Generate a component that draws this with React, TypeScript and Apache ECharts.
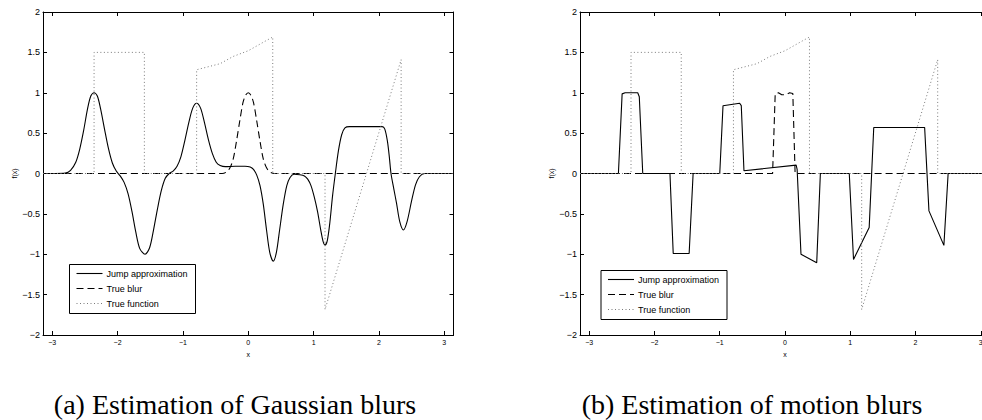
import React, { useEffect, useRef } from 'react';
import * as echarts from 'echarts';

const PI = Math.PI;
const xTickValues = [-3, -2, -1, 0, 1, 2, 3];
const yMin = -2;
const yMax = 2;
const yStep = 0.5;
const seriesNames = ['Jump approximation', 'True blur', 'True function'];
const captions = ['(a) Estimation of Gaussian blurs', '(b) Estimation of motion blurs'];

// (a) Gaussian blurs
const gaussJumpApprox: [number, number][] = [
  [-3.1416, 0], [-2.95, 0], [-2.8, 0.005], [-2.72, 0.04], [-2.64, 0.14], [-2.58, 0.3],
  [-2.52, 0.53], [-2.46, 0.8], [-2.41, 0.96], [-2.36, 1.0], [-2.31, 0.96], [-2.26, 0.8],
  [-2.2, 0.55], [-2.14, 0.31], [-2.08, 0.13], [-2.02, 0.03], [-1.96, -0.03], [-1.9, -0.11],
  [-1.84, -0.25], [-1.78, -0.47], [-1.72, -0.73], [-1.66, -0.93], [-1.58, -1.0], [-1.51, -0.92],
  [-1.45, -0.7], [-1.39, -0.44], [-1.33, -0.21], [-1.27, -0.06], [-1.21, 0.0], [-1.15, 0.03],
  [-1.09, 0.09], [-1.03, 0.21], [-0.97, 0.41], [-0.91, 0.63], [-0.85, 0.81], [-0.79, 0.87],
  [-0.73, 0.81], [-0.67, 0.63], [-0.61, 0.42], [-0.55, 0.25], [-0.49, 0.14], [-0.43, 0.1],
  [-0.35, 0.085], [-0.2, 0.09], [-0.05, 0.09], [0.03, 0.08], [0.08, 0.05], [0.13, -0.02],
  [0.18, -0.15], [0.23, -0.38], [0.28, -0.7], [0.33, -0.98], [0.383, -1.085], [0.43, -0.98],
  [0.48, -0.7], [0.536, -0.38], [0.59, -0.15], [0.64, -0.05], [0.7, -0.01], [0.79, -0.015],
  [0.86, -0.03], [0.91, -0.07], [0.96, -0.15], [1.01, -0.29], [1.06, -0.47], [1.11, -0.7],
  [1.145, -0.84], [1.175, -0.886], [1.21, -0.83], [1.25, -0.6], [1.29, -0.28], [1.333, 0.0],
  [1.38, 0.28], [1.43, 0.48], [1.48, 0.565], [1.55, 0.58], [2.05, 0.58], [2.09, 0.55],
  [2.13, 0.4], [2.16, 0.2], [2.185, 0.0], [2.23, -0.2], [2.27, -0.37], [2.32, -0.6],
  [2.375, -0.7], [2.43, -0.6], [2.5, -0.34], [2.56, -0.14], [2.62, -0.04], [2.7, 0.0],
  [3.1416, 0],
];
const gaussTrueBlur: [number, number][] = [
  [-3.1416, 0], [-0.4, 0], [-0.33, 0.02], [-0.28, 0.07], [-0.23, 0.18], [-0.18, 0.4],
  [-0.13, 0.65], [-0.08, 0.88], [-0.04, 0.97], [0, 1.0], [0.04, 0.97], [0.08, 0.88],
  [0.13, 0.65], [0.18, 0.4], [0.23, 0.18], [0.28, 0.07], [0.33, 0.02], [0.4, 0], [3.1416, 0],
];
// True function (same in both panels)
const trueFunction: [number, number][] = [
  [-3.1416, 0], [-2.36, 0], [-2.36, 1.5], [-1.59, 1.5], [-1.59, 0], [-0.79, 0],
  [-0.79, 1.285], [-0.43, 1.36], [-0.23, 1.45], [0.0, 1.52], [0.28, 1.648], [0.375, 1.69],
  [0.375, 0], [1.175, 0], [1.175, -1.685], [2.34, 1.41], [2.34, 0], [3.1416, 0],
];
// (b) motion blurs
const motionJumpApprox: [number, number][] = [
  [-3.1416, 0], [-2.553, 0], [-2.496, 0.986], [-2.45, 1.0], [-2.257, 1.0], [-2.233, 0.95],
  [-2.18, 0], [-1.763, 0], [-1.713, -0.99], [-1.469, -0.99], [-1.408, 0], [-1.0, 0],
  [-0.95, 0.84], [-0.695, 0.87], [-0.67, 0.84], [-0.629, 0.034], [0.171, 0.104], [0.186, 0.05],
  [0.245, -1.0], [0.486, -1.105], [0.542, 0], [0.985, 0], [1.05, -1.064], [1.29, -0.67],
  [1.36, 0.57], [2.14, 0.57], [2.206, -0.463], [2.435, -0.89], [2.5, 0], [3.1416, 0],
];
const motionTrueBlur: [number, number][] = [
  [-3.1416, 0], [-0.19, 0], [-0.15, 0.99], [-0.1, 1.0], [-0.05, 0.975], [0.02, 0.975],
  [0.07, 1.0], [0.12, 0.99], [0.155, 0], [3.1416, 0],
];

const SANS = 'Liberation Sans, Arial, Helvetica, sans-serif';
const SERIF = 'Liberation Serif, Times New Roman, serif';

const minusFmt = (v: number) => {
  const r = Math.round(v * 100) / 100;
  return r < 0 ? '\u2212' + String(Math.abs(r)) : String(r);
};

const grids = [
  { left: 43, top: 12, width: 410.5, height: 323 },
  { left: 580, top: 12, width: 410, height: 323 },
];
const legendBoxes = [
  { x: 69.5, y: 264.5 },
  { x: 601, y: 270.5 },
];
const captionPos = [
  { x: 235, y: 404 },
  { x: 752, y: 404 },
];

const lineStyles = [
  { color: '#000', width: 1.1, type: 'solid' as any },
  { color: '#000', width: 1.1, type: [7, 4] as any },
  { color: '#7a7a7a', width: 1, type: [1, 2.5] as any },
];

export default function App() {
  const ref = useRef<HTMLDivElement>(null);
  useEffect(() => {
    if (!ref.current) return;
    const chart = echarts.init(ref.current, undefined, { renderer: 'svg' });
    const xAxes: any[] = [];
    const yAxes: any[] = [];
    grids.forEach((_, g) => {
      xAxes.push({
        gridIndex: g, type: 'value', min: -PI, max: PI, position: 'bottom',
        axisLine: { show: true, onZero: false, lineStyle: { color: '#000', width: 1 } },
        axisTick: { show: true, inside: true, length: 4, customValues: xTickValues, lineStyle: { color: '#000' } },
        axisLabel: { show: true, customValues: xTickValues, fontSize: 7, color: '#000', margin: 4, fontFamily: SANS, formatter: minusFmt },
        splitLine: { show: false },
        name: 'x', nameLocation: 'middle', nameGap: 15,
        nameTextStyle: { fontSize: 7, color: '#000', fontFamily: SANS },
      });
      xAxes.push({
        gridIndex: g, type: 'value', min: -PI, max: PI, position: 'top',
        axisLine: { show: true, onZero: false, lineStyle: { color: '#000', width: 1 } },
        axisTick: { show: true, inside: true, length: 4, customValues: xTickValues, lineStyle: { color: '#000' } },
        axisLabel: { show: false }, splitLine: { show: false },
      });
      yAxes.push({
        gridIndex: g, type: 'value', min: yMin, max: yMax, interval: yStep, position: 'left',
        axisLine: { show: true, onZero: false, lineStyle: { color: '#000', width: 1 } },
        axisTick: { show: true, inside: true, length: 4, lineStyle: { color: '#000' } },
        axisLabel: { show: true, fontSize: 9, color: '#000', margin: 3, fontFamily: SANS, formatter: minusFmt },
        splitLine: { show: false },
        name: 'f(x)', nameLocation: 'middle', nameGap: 24,
        nameTextStyle: { fontSize: 7, color: '#000', fontFamily: SANS },
      });
      yAxes.push({
        gridIndex: g, type: 'value', min: yMin, max: yMax, interval: yStep, position: 'right',
        axisLine: { show: true, onZero: false, lineStyle: { color: '#000', width: 1 } },
        axisTick: { show: true, inside: true, length: 4, lineStyle: { color: '#000' } },
        axisLabel: { show: false }, splitLine: { show: false },
      });
    });
    const panelData = [
      [gaussJumpApprox, gaussTrueBlur, trueFunction],
      [motionJumpApprox, motionTrueBlur, trueFunction],
    ];
    const series: any[] = [];
    panelData.forEach((sets, g) => {
      sets.forEach((d, i) => {
        series.push({
          type: 'line', name: seriesNames[i], data: d,
          xAxisIndex: g * 2, yAxisIndex: g * 2,
          showSymbol: false, symbol: 'none',
          smooth: g === 0 && i < 2 ? 0.3 : false,
          lineStyle: lineStyles[i], clip: true, z: 2 + i,
        });
      });
    });
    const graphics: any[] = [];
    legendBoxes.forEach((b) => {
      const children: any[] = [
        { type: 'rect', shape: { x: b.x, y: b.y, width: 126, height: 49 }, style: { fill: '#fff', stroke: '#000', lineWidth: 1 } },
      ];
      seriesNames.forEach((n, i) => {
        const yy = b.y + 9 + 15 * i;
        const ls = lineStyles[i];
        children.push({
          type: 'line', shape: { x1: b.x + 7, y1: yy, x2: b.x + 33, y2: yy },
          style: { stroke: ls.color, lineWidth: ls.width, lineDash: Array.isArray(ls.type) ? ls.type : null },
        });
        children.push({
          type: 'text', x: b.x + 37, y: yy,
          style: { text: n, fontSize: 9, fontFamily: SANS, fill: '#000', verticalAlign: 'middle', align: 'left' },
        });
      });
      graphics.push({ type: 'group', z: 100, children });
    });
    captions.forEach((c, i) => {
      graphics.push({
        type: 'text', x: captionPos[i].x, y: captionPos[i].y, z: 100,
        style: { text: c, fontSize: 28, fontFamily: SERIF, fill: '#000', align: 'center', verticalAlign: 'middle' },
      });
    });
    chart.setOption({
      animation: false,
      backgroundColor: '#fff',
      grid: grids.map((g) => ({ ...g, containLabel: false, show: false })),
      xAxis: xAxes,
      yAxis: yAxes,
      series,
      graphic: graphics,
    });
    return () => chart.dispose();
  }, []);
  return (
    <div style={{ position: 'fixed', left: 0, top: 0, width: 982, height: 420, overflow: 'hidden', background: '#fff' }}>
      <div ref={ref} style={{ width: 1000, height: 420 }} />
    </div>
  );
}
